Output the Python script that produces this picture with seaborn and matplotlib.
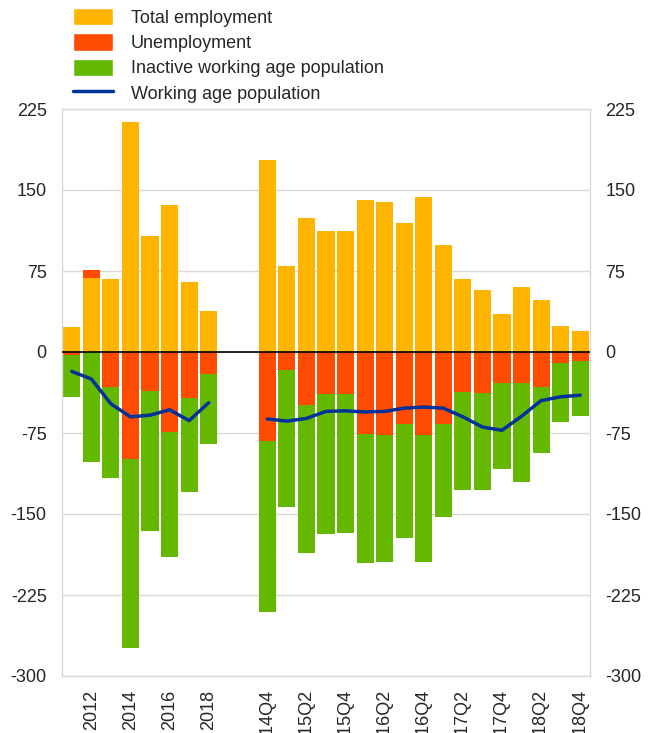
import numpy as np
import pandas as pd
import matplotlib
matplotlib.use("Agg")
import matplotlib.pyplot as plt
import seaborn as sns
from matplotlib.patches import Patch
from matplotlib.lines import Line2D

# Dados anuais (2011-2018)
years = ['2011', '2012', '2013', '2014', '2015', '2016', '2017', '2018']
emp_a = [23, 68.5, 68, 213, 107, 136, 65, 38]
unemp_a = [-3, 7.5, -32, -99, -36, -74, -43, -20]
inact_a = [-38.7, -101.6, -84.3, -175, -130, -115.8, -86.7, -65.2]
wap_a = [-18, -25, -48, -60, -58.5, -53.5, -63.5, -47]

# Dados trimestrais (2014Q4-2018Q4)
quarters = ['2014Q4', '2015Q1', '2015Q2', '2015Q3', '2015Q4', '2016Q1', '2016Q2',
            '2016Q3', '2016Q4', '2017Q1', '2017Q2', '2017Q3', '2017Q4', '2018Q1',
            '2018Q2', '2018Q3', '2018Q4']
emp_q = [178, 80, 124.5, 112.5, 112.5, 140.5, 139, 119, 143.5, 99.5, 67.5, 57.5,
         35.5, 60, 48, 24, 19]
unemp_q = [-82, -17, -49.5, -39, -38.5, -75.5, -77, -67, -76.5, -67, -37, -37.5,
           -29, -29, -32, -10.5, -8.5]
inact_q = [-158.7, -126.8, -136.9, -129.2, -128.8, -120.2, -117.8, -105, -118.3,
           -85.4, -91, -90.3, -79, -91.7, -61.8, -54.3, -51.1]
wap_q = [-62, -64, -61.5, -55, -54.5, -55.5, -55, -52, -51, -52, -60, -69.5,
         -72.5, -59.5, -45, -41.5, -40]

ORANGE = '#FFB400'
RED = '#FF4B00'
GREEN = '#65B800'
BLUE = '#003299'
GRAY = '#d9d9d9'

sns.set_style('white')
plt.rcParams['font.family'] = ['Liberation Sans', 'DejaVu Sans']
plt.rcParams['font.size'] = 13
plt.rcParams['axes.unicode_minus'] = False

# Posições: anos, dois espaços vazios, trimestres
pos_a = np.arange(len(years))
pos_q = np.arange(len(quarters)) + len(years) + 2
df = pd.DataFrame({
    'pos': np.concatenate([pos_a, pos_q]),
    'emp': emp_a + emp_q,
    'unemp': unemp_a + unemp_q,
    'inact': inact_a + inact_q,
})
df['unemp_bottom'] = np.where(df['unemp'] > 0, df['emp'], 0)
df['inact_bottom'] = np.where(df['unemp'] < 0, df['unemp'], 0)

fig = plt.figure(figsize=(6.53, 7.33), dpi=100)
ax = fig.add_axes([62 / 653, 1 - 676 / 733, 528 / 653, (676 - 109) / 733])

bar_kw = dict(native_scale=True, width=0.87, saturation=1, errorbar=None,
              linewidth=0, ax=ax, zorder=2)
sns.barplot(data=df, x='pos', y='emp', color=ORANGE, **bar_kw)
sns.barplot(data=df, x='pos', y='unemp', color=RED,
            bottom=df['unemp_bottom'].values, **bar_kw)
sns.barplot(data=df, x='pos', y='inact', color=GREEN,
            bottom=df['inact_bottom'].values, **bar_kw)

sns.lineplot(x=pos_a, y=wap_a, color=BLUE, lw=2.5, ax=ax, zorder=4)
sns.lineplot(x=pos_q, y=wap_q, color=BLUE, lw=2.5, ax=ax, zorder=4)

ax.axhline(0, color='black', lw=1.2, zorder=3)

# Eixos
ax.set_ylim(-300, 225)
ax.set_yticks(np.arange(-300, 226, 75))
ax.set_xlim(-0.5, len(years) + 2 + len(quarters) - 0.5)
ax.yaxis.grid(True, color=GRAY, lw=1, zorder=0)
ax.set_axisbelow(True)
for s in ax.spines.values():
    s.set_color(GRAY)
    s.set_linewidth(1)
ax.tick_params(axis='y', length=0, pad=11, labelsize=13, labelleft=True, labelright=True)

tick_pos = list(pos_a[1::2]) + list(pos_q[::2])
tick_lab = years[1::2] + quarters[::2]
ax.set_xticks(tick_pos)
ax.set_xticklabels(tick_lab, rotation=90)
ax.set_xticks(np.arange(-0.5, pos_q[-1] + 1, 1), minor=True)
ax.tick_params(axis='x', which='major', length=0, pad=10, labelsize=13)
ax.tick_params(axis='x', which='minor', direction='in', length=3, color='#bbbbbb')
ax.set_xlabel('')
ax.set_ylabel('')

# Legenda
handles = [
    Patch(facecolor=ORANGE, label='Total employment'),
    Patch(facecolor=RED, label='Unemployment'),
    Patch(facecolor=GREEN, label='Inactive working age population'),
    Line2D([0], [0], color=BLUE, lw=2.5, label='Working age population'),
]
fig.legend(handles=handles, loc='upper left', bbox_to_anchor=(73 / 653, 1 - 8 / 733),
           frameon=False, fontsize=13, borderpad=0, borderaxespad=0,
           handlelength=2.2, handleheight=1.1, handletextpad=1.0, labelspacing=0.36)

fig.savefig('out.png', dpi=100)
